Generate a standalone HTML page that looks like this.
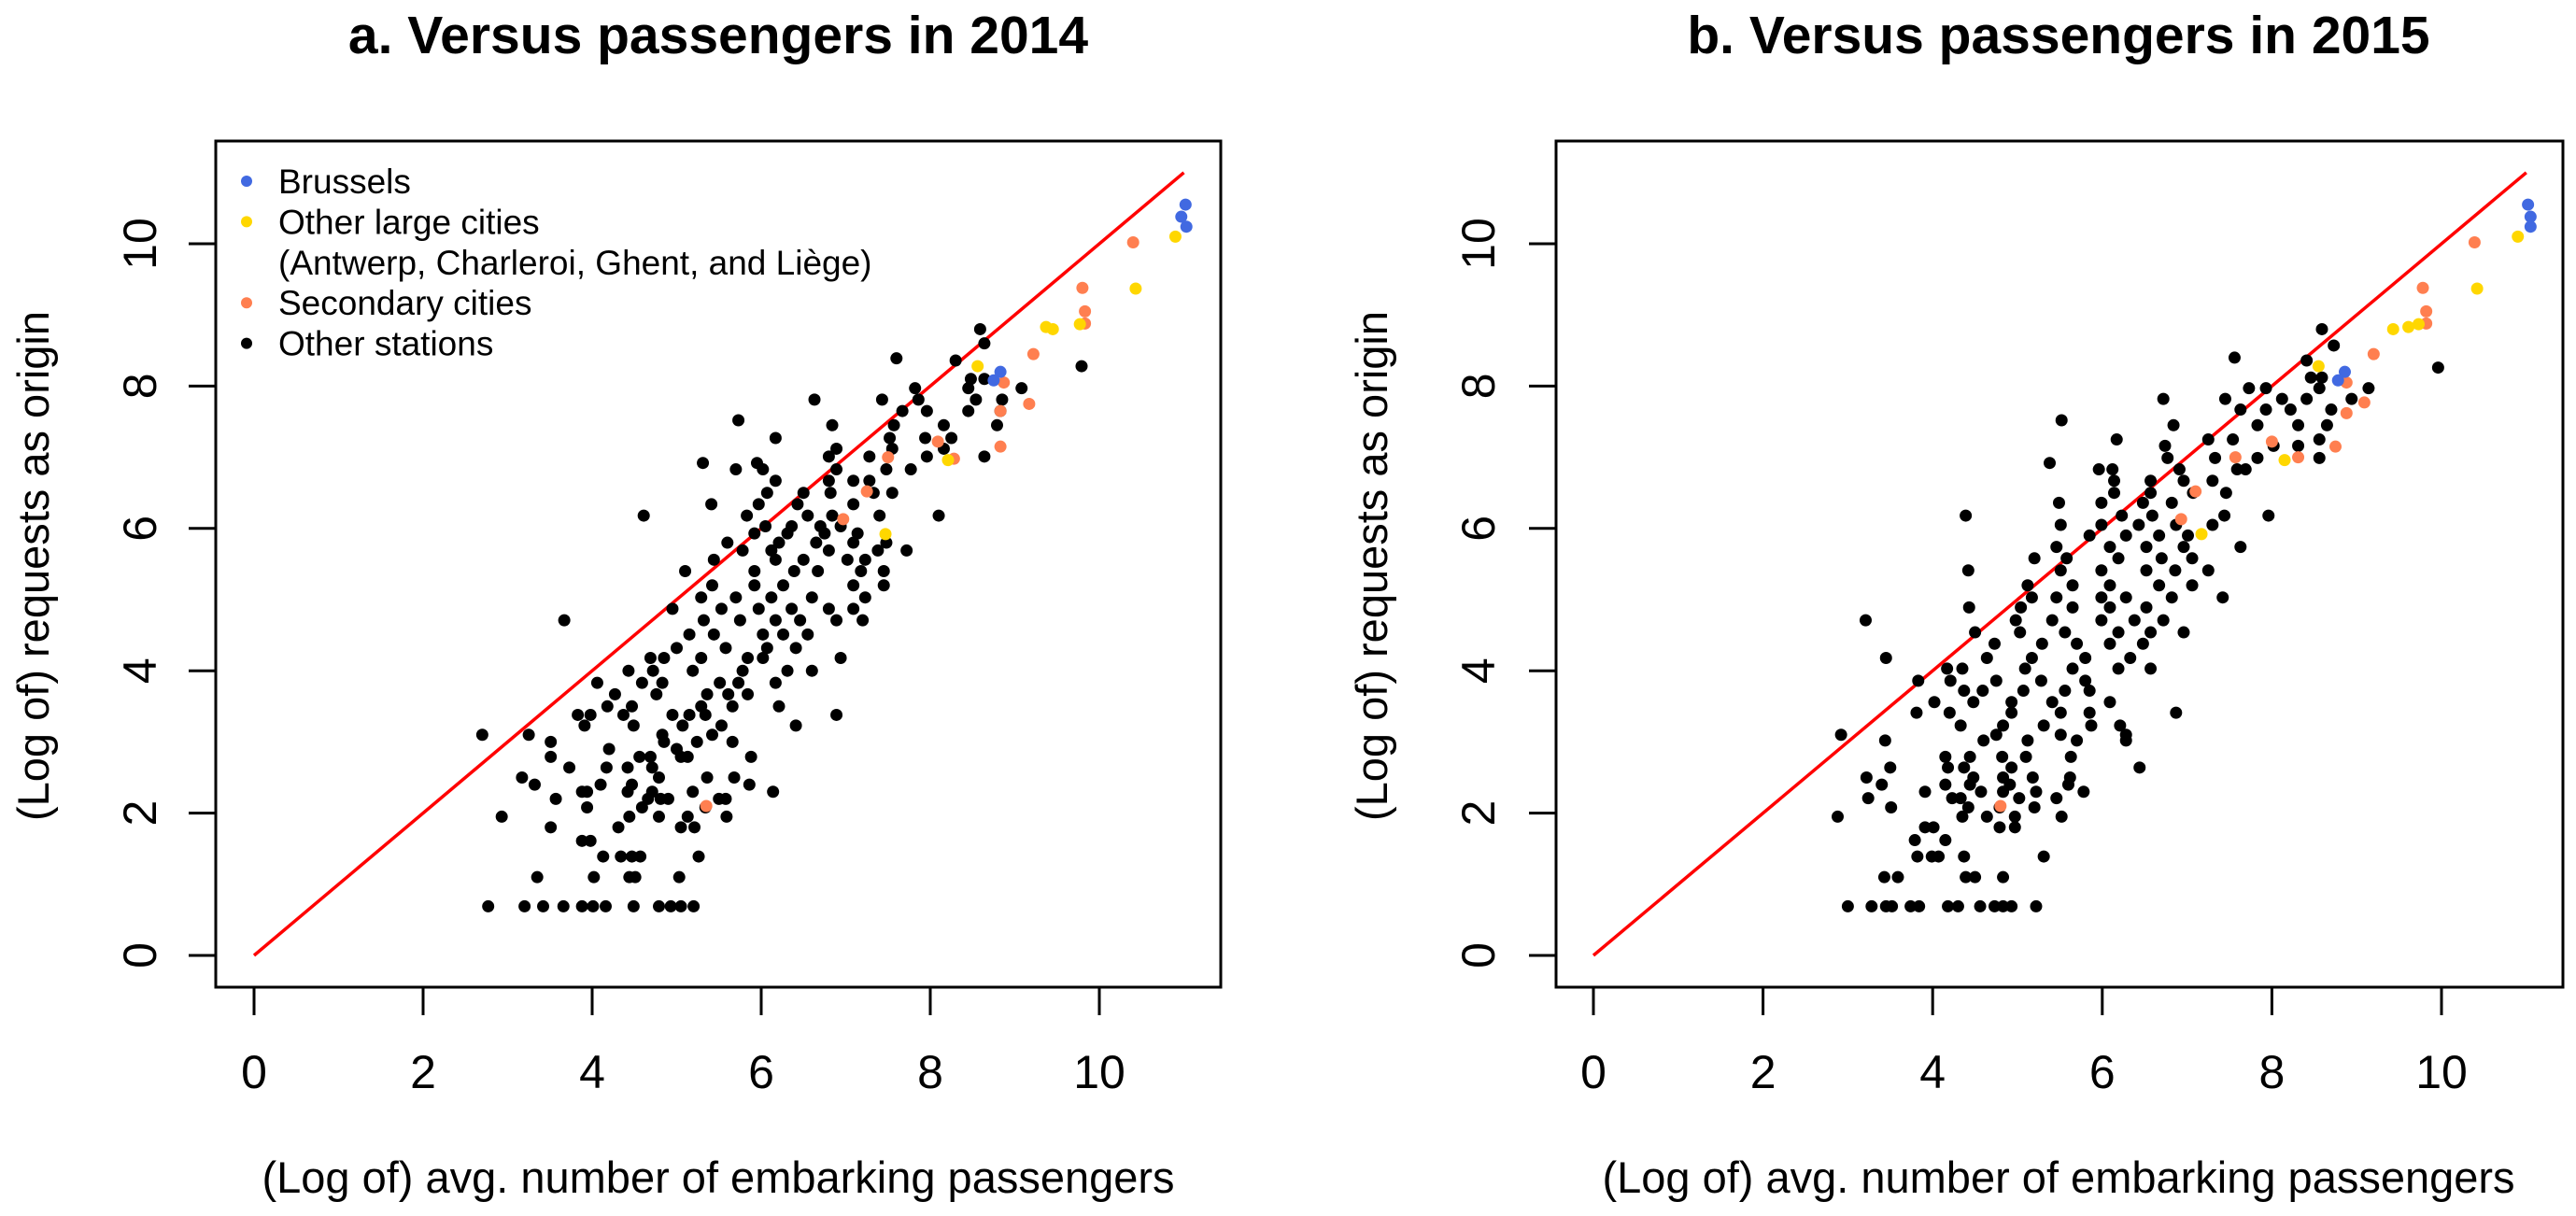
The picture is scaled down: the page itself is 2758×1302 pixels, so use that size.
<!DOCTYPE html>
<html><head><meta charset="utf-8">
<style>
html,body{margin:0;padding:0;background:#fff;}
svg{display:block;font-family:"Liberation Sans",Arial,sans-serif;}
</style></head>
<body>
<svg id="chart" width="2758" height="1302" viewBox="0 0 2758 1302" xmlns="http://www.w3.org/2000/svg"></svg>
<script>
const xTicks=[0,2,4,6,8,10];
const yTicks=[0,2,4,6,8,10];
const titles=["a. Versus passengers in 2014","b. Versus passengers in 2015"];
const legendLabels=["Brussels","Other large cities","(Antwerp, Charleroi, Ghent, and Liège)","Secondary cities","Other stations"];
const otherA=[[2.77,.69],[3.2,.69],[3.42,.69],[3.66,.69],[3.88,.69],[4.01,.69],[4.16,.69],[4.49,.69],[4.79,.69],[4.93,.69],[5.05,.69],[5.2,.69],
[3.35,1.1],[4.02,1.1],[4.44,1.1],[4.51,1.1],[5.03,1.1],[4.13,1.39],[4.34,1.39],[4.47,1.39],[4.57,1.39],[5.26,1.39],[3.88,1.61],[3.98,1.61],
[3.51,1.8],[4.31,1.8],[5.05,1.8],[5.21,1.8],[2.93,1.95],[4.44,1.95],[4.79,1.95],[5.13,1.95],[5.59,1.95],[3.94,2.08],[4.59,2.08],[5.34,2.08],
[3.57,2.2],[4.66,2.2],[4.81,2.2],[4.9,2.2],[5.5,2.2],[5.58,2.2],[3.88,2.3],[3.94,2.3],[4.42,2.3],[4.71,2.3],[5.19,2.3],[6.14,2.3],
[3.32,2.4],[4.1,2.4],[4.47,2.4],[5.86,2.4],[3.17,2.5],[4.79,2.5],[5.68,2.5],[5.36,2.5],[3.73,2.64],[4.17,2.64],[4.42,2.64],[4.71,2.64],
[3.51,2.79],[4.56,2.79],[4.69,2.79],[5.05,2.79],[5.13,2.79],[5.88,2.79],[4.2,2.9],[5.0,2.9],[3.51,3.0],[4.85,3.0],[5.24,3.0],[5.66,3.0],
[2.7,3.1],[3.25,3.1],[4.83,3.1],[5.42,3.1],[3.91,3.23],[4.49,3.23],[5.07,3.23],[5.53,3.23],[6.41,3.23],[3.83,3.38],[3.98,3.38],[4.37,3.38],[4.95,3.38],[5.15,3.38],[5.34,3.38],[6.89,3.38],
[4.18,3.5],[4.47,3.5],[5.29,3.5],[5.66,3.5],[6.21,3.5],[4.27,3.67],[4.76,3.67],[5.36,3.67],[5.61,3.67],[5.84,3.67],
[4.06,3.83],[4.59,3.83],[4.83,3.83],[5.51,3.83],[5.73,3.83],[6.17,3.83],[4.43,4.0],[4.72,4.0],[5.19,4.0],[5.78,4.0],[6.31,4.0],[6.6,4.0],
[4.69,4.18],[4.85,4.18],[5.29,4.18],[5.84,4.18],[6.02,4.18],[6.94,4.18],[5.0,4.32],[5.58,4.32],[6.07,4.32],[6.41,4.32],
[5.15,4.51],[5.44,4.51],[6.02,4.51],[6.26,4.51],[6.55,4.51],[3.67,4.71],[5.32,4.71],[5.75,4.71],[6.17,4.71],[6.46,4.71],[6.89,4.71],[7.2,4.71],
[4.95,4.87],[5.53,4.87],[5.97,4.87],[6.36,4.87],[6.8,4.87],[7.09,4.87],[5.29,5.03],[5.7,5.03],[6.12,5.03],[6.6,5.03],[7.23,5.03],
[5.42,5.2],[5.92,5.2],[6.26,5.2],[7.09,5.2],[7.45,5.2],[5.1,5.4],[5.92,5.4],[6.39,5.4],[6.67,5.4],[7.18,5.4],[7.45,5.4],
[5.44,5.56],[6.17,5.56],[6.5,5.56],[7.02,5.56],[7.23,5.56],[5.78,5.69],[6.12,5.69],[6.8,5.69],[7.38,5.69],[7.72,5.69],
[5.6,5.8],[6.21,5.8],[6.65,5.8],[7.09,5.8],[7.48,5.8],[5.92,5.93],[6.31,5.93],[6.75,5.93],[7.14,5.93],[6.05,6.03],[6.36,6.03],[6.7,6.03],[6.94,6.03],
[4.61,6.18],[5.83,6.18],[6.55,6.18],[6.84,6.18],[7.4,6.18],[8.1,6.18],[5.41,6.34],[5.97,6.34],[6.43,6.34],[7.09,6.34],
[6.07,6.5],[6.5,6.5],[6.82,6.5],[7.33,6.5],[7.55,6.5],[6.17,6.67],[6.8,6.67],[7.09,6.67],[7.28,6.67],[5.7,6.83],[6.02,6.83],[6.89,6.83],[7.48,6.83],[7.77,6.83],
[5.31,6.92],[5.95,6.92],[6.8,7.01],[7.28,7.01],[7.96,7.01],[8.64,7.01],[6.89,7.12],[7.55,7.12],[8.16,7.12],[6.17,7.27],[7.52,7.27],[7.94,7.27],[8.25,7.27],
[6.84,7.45],[7.57,7.45],[8.16,7.45],[8.79,7.45],[5.73,7.52],[7.67,7.65],[7.96,7.65],[8.45,7.65],[8.83,7.65],[6.63,7.81],[7.43,7.81],[7.86,7.81],[8.54,7.81],[8.85,7.81],
[7.82,7.97],[8.45,7.97],[9.08,7.97],[8.48,8.1],[8.64,8.1],[9.79,8.28],[7.6,8.39],[8.3,8.36],[8.64,8.6],[8.59,8.8]];
const largeA=[[8.56,8.28],[8.21,6.96],[7.47,5.92],[9.45,8.8],[9.37,8.83],[9.77,8.87],[10.43,9.37],[10.9,10.1]];
const secondaryA=[[8.87,8.05],[8.83,7.65],[8.83,7.15],[9.17,7.75],[9.22,8.45],[9.8,9.38],[9.83,9.05],[9.83,8.88],[10.4,10.02],[8.28,6.98],[8.09,7.22],[7.25,6.52],[6.97,6.13],[5.35,2.1],[7.5,7.0]];
const brusselsA=[[11.02,10.55],[10.97,10.38],[11.03,10.24],[8.83,8.2],[8.75,8.08]];
const otherB=[[3.0,.69],[3.28,.69],[3.45,.69],[3.52,.69],[3.74,.69],[3.84,.69],[4.18,.69],[4.3,.69],[4.56,.69],[4.73,.69],[4.83,.69],[4.93,.69],[5.22,.69],
[3.43,1.1],[3.59,1.1],[4.39,1.1],[4.5,1.1],[4.83,1.1],[3.82,1.39],[3.99,1.39],[4.07,1.39],[4.37,1.39],[5.31,1.39],[3.79,1.62],[4.15,1.62],
[3.91,1.8],[4.01,1.8],[4.79,1.8],[4.97,1.8],[2.88,1.95],[4.35,1.95],[4.64,1.95],[4.97,1.95],[5.52,1.95],[3.51,2.08],[4.42,2.08],[4.79,2.08],[5.2,2.08],
[3.24,2.21],[4.23,2.21],[4.33,2.21],[5.02,2.21],[5.46,2.21],[3.91,2.3],[4.57,2.3],[4.83,2.3],[5.22,2.3],[5.78,2.3],[3.4,2.4],[4.15,2.4],[4.44,2.4],[4.91,2.4],[5.6,2.4],
[3.22,2.5],[4.48,2.5],[4.83,2.5],[5.18,2.5],[5.62,2.5],[3.5,2.64],[4.18,2.64],[4.37,2.64],[4.93,2.64],[6.44,2.64],[4.15,2.79],[4.44,2.79],[4.82,2.79],[5.1,2.79],[5.63,2.79],
[3.44,3.02],[4.6,3.02],[5.12,3.02],[5.7,3.02],[6.28,3.02],[2.92,3.1],[4.75,3.1],[5.51,3.1],[6.28,3.1],[4.33,3.23],[4.83,3.23],[5.31,3.23],[5.87,3.23],[6.21,3.23],
[3.81,3.41],[4.2,3.41],[4.93,3.41],[5.51,3.41],[5.85,3.41],[6.87,3.41],[4.02,3.56],[4.48,3.56],[4.93,3.56],[5.41,3.56],[6.09,3.56],[4.37,3.72],[4.59,3.72],[5.07,3.72],[5.56,3.72],[5.85,3.72],
[3.83,3.86],[4.21,3.86],[4.75,3.86],[5.28,3.86],[5.8,3.86],[4.17,4.03],[4.35,4.03],[5.09,4.03],[5.65,4.03],[6.19,4.03],[6.57,4.03],[3.45,4.18],[4.64,4.18],[5.17,4.18],[5.8,4.18],[6.33,4.18],
[4.73,4.38],[5.29,4.38],[5.7,4.38],[6.09,4.38],[6.48,4.38],[4.5,4.54],[5.03,4.54],[5.56,4.54],[6.19,4.54],[6.57,4.54],[6.96,4.54],[3.21,4.71],[4.98,4.71],[5.41,4.71],[5.99,4.71],[6.38,4.71],[6.72,4.71],
[4.43,4.89],[5.04,4.89],[5.65,4.89],[6.09,4.89],[6.52,4.89],[5.17,5.03],[5.46,5.03],[5.99,5.03],[6.28,5.03],[6.82,5.03],[7.42,5.03],[5.12,5.2],[5.65,5.2],[6.09,5.2],[6.67,5.2],[7.06,5.2],
[4.42,5.41],[5.51,5.41],[5.99,5.41],[6.52,5.41],[6.86,5.41],[7.25,5.41],[5.2,5.58],[5.58,5.58],[6.19,5.58],[6.7,5.58],[7.06,5.58],[5.46,5.74],[6.09,5.74],[6.52,5.74],[6.96,5.74],[7.63,5.74],
[5.85,5.9],[6.28,5.9],[6.67,5.9],[7.01,5.9],[5.51,6.05],[5.99,6.05],[6.43,6.05],[6.87,6.05],[7.3,6.05],[4.39,6.18],[6.23,6.18],[6.59,6.18],[7.44,6.18],[7.96,6.18],
[5.49,6.36],[5.99,6.36],[6.48,6.36],[6.82,6.36],[6.14,6.5],[6.57,6.5],[7.07,6.5],[7.46,6.5],[6.14,6.67],[6.57,6.67],[6.96,6.67],[7.3,6.67],[5.96,6.83],[6.12,6.83],[6.91,6.83],[7.59,6.83],[7.69,6.83],
[5.38,6.92],[6.77,6.99],[7.33,6.99],[7.83,6.99],[8.56,6.99],[6.74,7.16],[8.02,7.16],[8.31,7.16],[6.17,7.25],[7.25,7.25],[7.54,7.25],[8.56,7.25],[6.84,7.45],[7.83,7.45],[8.31,7.45],[8.65,7.45],
[5.52,7.52],[7.63,7.67],[7.93,7.67],[8.22,7.67],[8.7,7.67],[6.72,7.82],[7.45,7.82],[8.12,7.82],[8.41,7.82],[8.94,7.82],[7.73,7.97],[7.93,7.97],[8.56,7.97],[9.14,7.97],
[8.46,8.12],[8.59,8.12],[9.96,8.26],[8.41,8.36],[7.56,8.4],[8.73,8.57],[8.59,8.8]];
const largeB=[[8.55,8.28],[8.15,6.96],[7.17,5.92],[9.43,8.8],[9.61,8.83],[9.73,8.87],[10.42,9.37],[10.9,10.1]];
const secondaryB=[[8.88,8.05],[8.88,7.62],[8.75,7.15],[9.09,7.77],[9.2,8.45],[9.78,9.38],[9.82,9.05],[9.82,8.88],[10.39,10.02],[8.31,7.0],[8.0,7.22],[7.57,7.0],[7.1,6.52],[6.93,6.13],[4.8,2.1]];
const brusselsB=[[11.02,10.55],[11.05,10.38],[11.05,10.24],[8.86,8.2],[8.78,8.08]];

const NS="http://www.w3.org/2000/svg";
const svg=document.getElementById('chart');
function mk(tag,attrs,parent,text){const e=document.createElementNS(NS,tag);for(const k in attrs)e.setAttribute(k,attrs[k]);if(text!==undefined)e.textContent=text;parent.appendChild(e);return e;}

const panels=[
 {id:'a',boxL:231,boxR:1307,x0:272,x10:1177,ytl:149,ylab:35,cx:769,other:otherA,large:largeA,sec:secondaryA,bru:brusselsA,legend:true},
 {id:'b',boxL:1666,boxR:2744,x0:1706,x10:2614,ytl:1582,ylab:1468,cx:2204,other:otherB,large:largeB,sec:secondaryB,bru:brusselsB,legend:false}
];
const boxT=151,boxB=1057,y0=1023,y10=261;
const COLORS={bru:'#4169E1',large:'#FFD700',sec:'#FF7F50',other:'#000'};

panels.forEach((p,i)=>{
 const g=mk('g',{},svg);
 
 
 const sx=v=>p.x0+(p.x10-p.x0)*v/10;
 const sy=v=>y0+(y10-y0)*v/10;
 const t=mk('text',{x:p.cx,y:57,'text-anchor':'middle','font-size':57,'font-weight':'bold'},g,titles[i]);
 
 
 const box=mk('rect',{x:p.boxL,y:boxT,width:p.boxR-p.boxL,height:boxB-boxT,fill:'none',stroke:'#000','stroke-width':3},g);
 
 
 xTicks.forEach(v=>{
  const tk=mk('line',{x1:sx(v),x2:sx(v),y1:boxB,y2:1087,stroke:'#000','stroke-width':3},g);
  
  
  const tl=mk('text',{x:sx(v),y:1165,'text-anchor':'middle','font-size':50},g,String(v));
  
  
 });
 yTicks.forEach(v=>{
  const tk=mk('line',{x1:p.boxL-29,x2:p.boxL,y1:sy(v),y2:sy(v),stroke:'#000','stroke-width':3},g);
  
  
  const tl=mk('text',{x:0,y:0,'text-anchor':'middle','font-size':50,transform:`translate(${p.ytl+18},${sy(v)}) rotate(-90)`},g,String(v));
  
  
 });
 const xl=mk('text',{x:p.cx,y:1277,'text-anchor':'middle','font-size':47},g,'(Log of) avg. number of embarking passengers');
 
 
 const yl=mk('text',{x:0,y:0,'text-anchor':'middle','font-size':47,transform:`translate(${p.ylab+17},606) rotate(-90)`},g,'(Log of) requests as origin');
 
 
 const rl=mk('line',{x1:sx(0),y1:sy(0),x2:sx(11),y2:sy(11),stroke:'#FF0000','stroke-width':3.5},g);
 
 
 [['other',p.other],['sec',p.sec],['large',p.large],['bru',p.bru]].forEach(([k,arr])=>{
  arr.forEach(d=>{
   const c=mk('circle',{cx:sx(d[0]),cy:sy(d[1]),r:6.5,fill:COLORS[k]},g);
   
   
  });
 });
 if(p.legend){
  const lg=mk('g',{},g);
  
  
  const cols=[COLORS.bru,COLORS.large,null,COLORS.sec,COLORS.other];
  legendLabels.forEach((lab,j)=>{
   const yy=194+j*43.4;
   if(cols[j]){const c=mk('circle',{cx:264,cy:yy,r:6,fill:cols[j]},lg);
    
    }
   const tx=mk('text',{x:298,y:yy+13,'font-size':37},lg,lab);
   
   
  });
 }
});
</script>
</body></html>
